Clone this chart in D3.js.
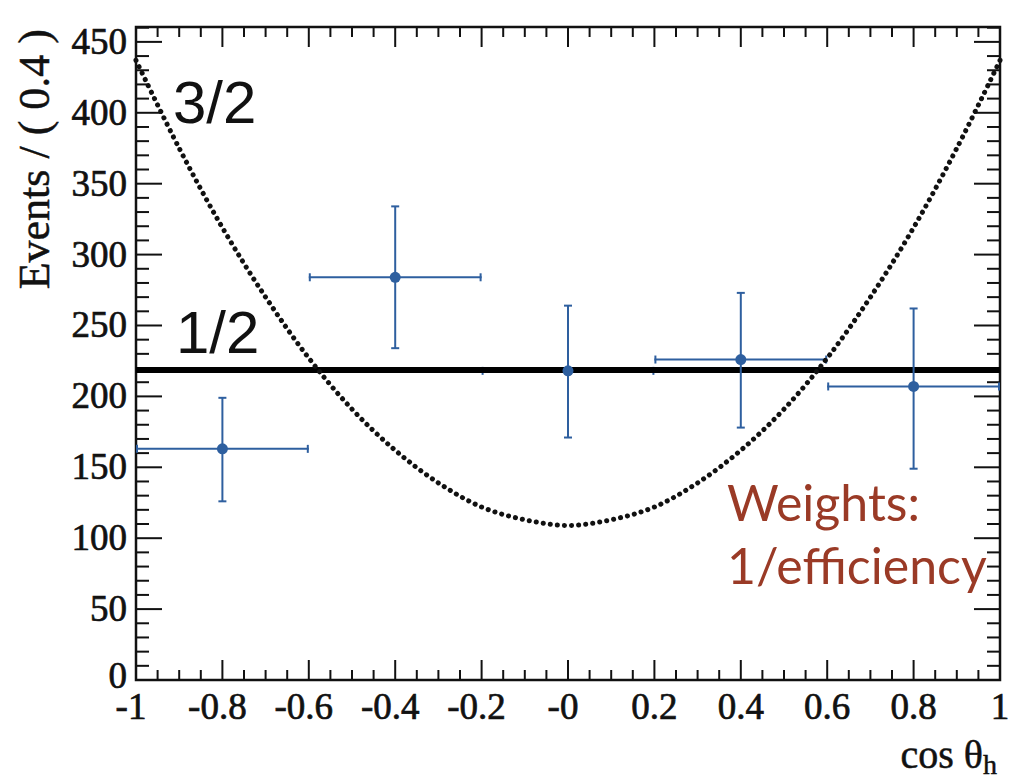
<!DOCTYPE html>
<html>
<head>
<meta charset="utf-8">
<script src="https://cdn.jsdelivr.net/npm/d3@7"></script>
<style>
  body { margin: 0; background: #fff; }
  svg { display: block; }
  .tick-label { font-family: "Liberation Serif", "DejaVu Serif", serif; font-size: 37px; fill: #111; stroke: #111; stroke-width: 0.7px; }
  .axis-title { font-family: "Liberation Serif", "DejaVu Serif", serif; font-size: 40px; fill: #111; stroke: #111; stroke-width: 0.5px; }
</style>
</head>
<body>
<svg id="chart" width="1010" height="781"></svg>
<script>
// measured points (cos theta_h, events / 0.4)
const binCenters = [-0.8, -0.4, 0.0, 0.4, 0.8];
const binHalfWidth = [0.2, 0.2, 0.2, 0.2, 0.2];
const events = [163, 284, 218, 226, 207];
const errHigh = [199, 334, 264, 273, 262];
const errLow = [126, 234, 171, 178, 149];

// spin 1/2 flat expectation
const flatLevel = 218.6;

// spin 3/2 expectation
const curveX = [-1, -0.9, -0.8, -0.7, -0.6, -0.5, -0.4, -0.3, -0.2, -0.1, 0,
                0.1, 0.2, 0.3, 0.4, 0.5, 0.6, 0.7, 0.8, 0.9, 1];
const curveY = [437, 375, 319, 270, 227, 191, 162, 139, 122, 113, 109,
                113, 122, 139, 162, 191, 227, 270, 319, 375, 437];

const xTickLabels = ['-1', '-0.8', '-0.6', '-0.4', '-0.2', '-0', '0.2', '0.4', '0.6', '0.8', '1'];
const yTicks = [0, 50, 100, 150, 200, 250, 300, 350, 400, 450];

const svg = d3.select('#chart');
const margin = {left: 136, right: 10, top: 27, bottom: 101};
const W = 1010, H = 781;

const x = d3.scaleLinear().domain([-1, 1]).range([margin.left, W - margin.right]);
const y = d3.scaleLinear().domain([0, 460.5]).range([H - margin.bottom, margin.top]);

const x0 = x.range()[0], x1 = x.range()[1];
const y0 = y.range()[0], y1 = y.range()[1];

/////// ticks on all four sides ///////
const tickG = svg.append('g').attr('stroke', '#111').attr('stroke-width', 2);

const xMinor = d3.range(-1, 1.0001, 0.05);
xMinor.forEach((v, i) => {
    let len = (i % 4 === 0) ? 20 : 10;
    tickG.append('line').attr('x1', x(v)).attr('x2', x(v)).attr('y1', y0).attr('y2', y0 - len);
    tickG.append('line').attr('x1', x(v)).attr('x2', x(v)).attr('y1', y1).attr('y2', y1 + len);
});

const yMinor = d3.range(0, 461, 10);
yMinor.forEach((v) => {
    let len = (v % 50 === 0) ? 26 : 13;
    tickG.append('line').attr('x1', x0).attr('x2', x0 + len).attr('y1', y(v)).attr('y2', y(v));
    tickG.append('line').attr('x1', x1).attr('x2', x1 - len).attr('y1', y(v)).attr('y2', y(v));
});

svg.append('rect')
    .attr('x', x0).attr('y', y1)
    .attr('width', x1 - x0).attr('height', y0 - y1)
    .attr('fill', 'none').attr('stroke', '#111').attr('stroke-width', 2.5);

/////// tick labels ///////
svg.append('g').selectAll('text').data(xTickLabels).enter().append('text')
    .classed('tick-label', true)
    .attr('x', (d, i) => x(-1 + i * 0.2) - (d.startsWith('-') ? 5 : 0))
    .attr('y', 719)
    .attr('text-anchor', 'middle')
    .text(d => d);

svg.append('g').selectAll('text').data(yTicks).enter().append('text')
    .classed('tick-label', true)
    .attr('x', 127)
    .attr('y', d => y(d) + (d === 0 ? 8 : 12))
    .attr('text-anchor', 'end')
    .text(d => d);

/////// axis titles ///////
svg.append('text').classed('axis-title', true)
    .attr('transform', 'translate(49, 29) rotate(-90)')
    .attr('text-anchor', 'end')
    .style('font-size', '44px')
    .text('Events / ( 0.4 )');

let xt = svg.append('text').classed('axis-title', true)
    .attr('x', 997).attr('y', 768).attr('text-anchor', 'end');
xt.append('tspan').text('cos θ');
xt.append('tspan').attr('dy', 6).style('font-size', '28px').text('h');

/////// data points: horizontal bars first (hidden under the 1/2 line where they meet) ///////
const blue = '#2e5f9f';
const pts = svg.append('g').selectAll('g').data(binCenters).enter().append('g');

pts.append('line')
    .attr('x1', (d, i) => x(d - binHalfWidth[i])).attr('x2', (d, i) => x(d + binHalfWidth[i]))
    .attr('y1', (d, i) => y(events[i])).attr('y2', (d, i) => y(events[i]))
    .attr('stroke', blue).attr('stroke-width', 2);
pts.append('line')
    .attr('x1', (d, i) => x(d + binHalfWidth[i]) - 1).attr('x2', (d, i) => x(d + binHalfWidth[i]) - 1)
    .attr('y1', (d, i) => y(events[i]) - 4).attr('y2', (d, i) => y(events[i]) + 4)
    .attr('stroke', blue).attr('stroke-width', 2);
pts.append('line')
    .attr('x1', (d, i) => x(d - binHalfWidth[i]) + 1).attr('x2', (d, i) => x(d - binHalfWidth[i]) + 1)
    .attr('y1', (d, i) => y(events[i]) - 4).attr('y2', (d, i) => y(events[i]) + 4)
    .attr('stroke', blue).attr('stroke-width', 2);

/////// spin 1/2 line ///////
svg.append('line')
    .attr('x1', x0).attr('x2', x1)
    .attr('y1', y(flatLevel)).attr('y2', y(flatLevel))
    .attr('stroke', '#000').attr('stroke-width', 6);

/////// vertical error bars and markers ///////
const vert = svg.append('g').selectAll('g').data(binCenters).enter().append('g');
vert.append('line')
    .attr('x1', d => x(d)).attr('x2', d => x(d))
    .attr('y1', (d, i) => y(errLow[i])).attr('y2', (d, i) => y(errHigh[i]))
    .attr('stroke', blue).attr('stroke-width', 2);
[errLow, errHigh].forEach(arr => {
    vert.append('line')
        .attr('x1', d => x(d) - 4).attr('x2', d => x(d) + 4)
        .attr('y1', (d, i) => y(arr[i])).attr('y2', (d, i) => y(arr[i]))
        .attr('stroke', blue).attr('stroke-width', 2);
});
vert.append('circle')
    .attr('cx', d => x(d)).attr('cy', (d, i) => y(events[i]))
    .attr('r', 5.5).attr('fill', blue);

/////// spin 3/2 dotted curve ///////
const lineGen = d3.line()
    .x((d, i) => x(curveX[i]))
    .y(d => y(d))
    .curve(d3.curveCatmullRom);

svg.append('path')
    .datum(curveY)
    .attr('d', lineGen)
    .attr('fill', 'none')
    .attr('stroke', '#111')
    .attr('stroke-width', 5)
    .attr('stroke-linecap', 'round')
    .attr('stroke-dasharray', '0.1 7');

/////// annotations ///////
const labelFont = '"Liberation Sans", Arimo, sans-serif';
svg.append('text').attr('x', 173).attr('y', 123)
    .style('font-family', labelFont).style('font-size', '60px').style('fill', '#111')
    .text('3/2');
svg.append('text').attr('x', 176).attr('y', 353)
    .style('font-family', labelFont).style('font-size', '60px').style('fill', '#111')
    .text('1/2');

const brown = '#9a3a26';
svg.append('text').attr('x', 727).attr('y', 521)
    .style('font-family', 'Lato, sans-serif').style('font-size', '50px').style('fill', brown)
    .text('Weights:');
svg.append('text').attr('x', 727).attr('y', 584)
    .style('font-family', 'Lato, sans-serif').style('font-size', '50px').style('fill', brown)
    .text('1/efficiency');
</script>
</body>
</html>
